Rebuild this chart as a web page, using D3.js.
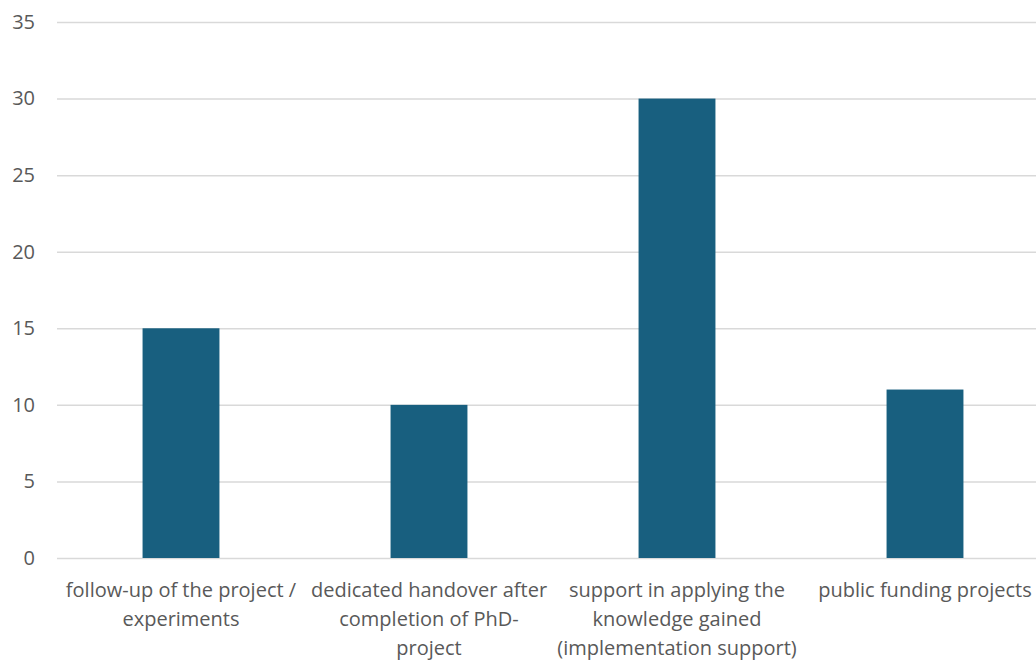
<!DOCTYPE html>
<html><head><meta charset="utf-8">
<script src="https://cdn.jsdelivr.net/npm/d3@7"></script>
<style>body{margin:0;background:#fff}svg{display:block}</style>
</head><body><svg id="c" width="1036" height="660"></svg>
<script>
const categories = ["follow-up of the project / experiments","dedicated handover after completion of PhD-project","support in applying the knowledge gained (implementation support)","public funding projects"];
const categoryLines = [["follow-up of the project /","experiments"],["dedicated handover after","completion of PhD-","project"],["support in applying the","knowledge gained","(implementation support)"],["public funding projects"]];
const values = [15, 10, 30, 11];
const yTicks = [0,5,10,15,20,25,30,35];

(function(){
const svg = d3.select("#c");
const mLeft = 57, mTop = 22, mBottom = 558;
const x = d3.scaleBand().domain(categories).range([mLeft, mLeft + 4*248]).paddingInner(0.69).paddingOuter(0.345);
const y = d3.scaleLinear().domain([0,35]).range([mBottom, mTop]);
const font = "'Open Sans', sans-serif";

const yAxis = svg.append("g").attr("transform", `translate(${mLeft},0)`)
  .call(d3.axisLeft(y).tickValues(yTicks).tickSize(-(1036-mLeft)).tickPadding(22).tickFormat(d3.format("d")));
yAxis.select(".domain").remove();
yAxis.selectAll(".tick line").attr("stroke","#d9d9d9").attr("stroke-width",1.5);
yAxis.selectAll(".tick text").attr("fill","#595959").style("font-family",font).style("font-size","20px");

svg.append("g").selectAll("rect").data(values).join("rect")
  .attr("x",(d,i)=>x(categories[i])).attr("width",x.bandwidth())
  .attr("y",d=>y(d)).attr("height",d=>y(0)-y(d)).attr("fill","#185F7F");

const labels = svg.append("g").selectAll("text").data(categories).join("text")
  .attr("x",d=>x(d)+x.bandwidth()/2).attr("y",597)
  .attr("text-anchor","middle").attr("fill","#595959")
  .style("font-family",font).style("font-size","20px");
labels.each(function(d,i){
  d3.select(this).selectAll("tspan").data(categoryLines[i]).join("tspan")
    .attr("x",x(d)+x.bandwidth()/2).attr("dy",(t,j)=>j?29:0).text(t=>t);
});
})();
</script></body></html>
